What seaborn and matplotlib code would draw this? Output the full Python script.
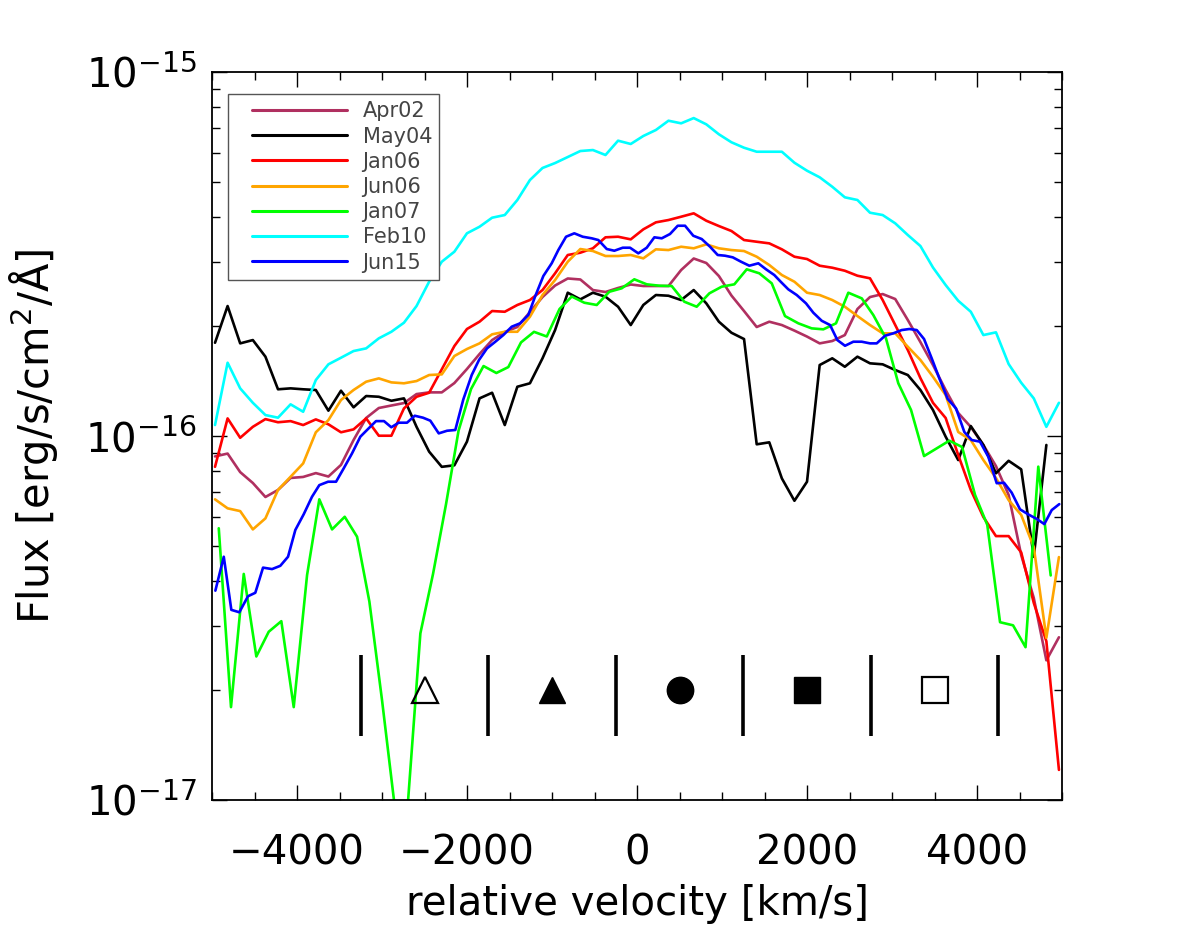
import numpy as np
import pandas as pd
import matplotlib
matplotlib.use("Agg")
import matplotlib.pyplot as plt
import seaborn as sns
from matplotlib.ticker import MultipleLocator, NullFormatter, LogLocator
from matplotlib.lines import Line2D
from matplotlib.legend_handler import HandlerLine2D

sns.set_style("ticks")
plt.rcParams['font.family'] = ['DejaVu Sans']
plt.rcParams['mathtext.fontset'] = 'dejavusans'
plt.rcParams['text.color'] = 'black'
plt.rcParams['axes.labelcolor'] = 'black'
plt.rcParams['xtick.color'] = 'black'
plt.rcParams['ytick.color'] = 'black'
plt.rcParams['axes.edgecolor'] = 'black'

flux_unit = 1e-16  # all fluxes below are in 1e-16 erg/s/cm^2/A

# common velocity grid (km/s) for Apr02, May04, Jan06, Jun06, Feb10
vel = [-4965, -4817, -4669, -4520, -4372, -4224, -4076, -3928, -3779, -3631,
       -3483, -3335, -3187, -3038, -2890, -2742, -2594, -2446, -2297, -2149,
       -2001, -1853, -1705, -1556, -1408, -1260, -1112, -964, -815, -667,
       -519, -371, -223, -74, 74, 222, 370, 519, 667, 815,
       963, 1111, 1259, 1408, 1556, 1704, 1852, 2000, 2149, 2297,
       2445, 2593, 2741, 2890, 3038, 3186, 3334, 3482, 3631, 3779,
       3927, 4075, 4223, 4372, 4520, 4668, 4816, 4964]

apr02 = [0.879, 0.895, 0.796, 0.743, 0.680, 0.711, 0.767, 0.772, 0.791, 0.774,
         0.833, 0.975, 1.121, 1.194, 1.213, 1.232, 1.304, 1.318, 1.318, 1.398,
         1.528, 1.680, 1.835, 1.931, 1.993, 2.191, 2.409, 2.591, 2.709, 2.692,
         2.518, 2.487, 2.551, 2.608, 2.583, 2.583, 2.583, 2.858, 3.074, 2.988,
         2.752, 2.432, 2.205, 1.993, 2.061, 2.018, 1.948, 1.876, 1.797, 1.824,
         1.894, 2.233, 2.409, 2.455, 2.379, 2.083, 1.812, 1.567, 1.338, 1.157,
         1.059, 0.945, 0.827, 0.689, 0.471, 0.359, 0.242, 0.280]

may04 = [1.804, 2.276, 1.797, 1.835, 1.652, 1.344, 1.352, 1.344, 1.338, 1.174,
         1.332, 1.199, 1.288, 1.282, 1.250, 1.269, 1.060, 0.906, 0.823, 0.831,
         0.965, 1.269, 1.315, 1.072, 1.366, 1.396, 1.635, 1.955, 2.476, 2.374,
         2.476, 2.414, 2.266, 2.018, 2.291, 2.440, 2.429, 2.364, 2.518, 2.315,
         2.061, 1.922, 1.847, 0.949, 0.961, 0.765, 0.664, 0.749, 1.567, 1.635,
         1.550, 1.652, 1.584, 1.574, 1.518, 1.471, 1.338, 1.179, 0.996, 0.859,
         1.065, 0.945, 0.790, 0.855, 0.810, 0.466, 0.945, np.nan]

jan06 = [0.823, 1.118, 0.989, 1.060, 1.113, 1.091, 1.099, 1.072, 1.111, 1.077,
         1.024, 1.043, 1.118, 1.002, 1.002, 1.191, 1.282, 1.315, 1.525, 1.767,
         1.968, 2.061, 2.205, 2.195, 2.291, 2.364, 2.518, 2.799, 3.143, 3.189,
         3.279, 3.515, 3.528, 3.470, 3.697, 3.864, 3.921, 4.004, 4.091, 3.904,
         3.775, 3.658, 3.455, 3.418, 3.383, 3.258, 3.109, 3.064, 2.937, 2.900,
         2.845, 2.757, 2.712, 2.364, 2.018, 1.723, 1.443, 1.234, 1.121, 0.887,
         0.711, 0.599, 0.531, 0.531, 0.479, 0.348, 0.273, 0.121]

jun06 = [0.670, 0.633, 0.622, 0.554, 0.594, 0.711, 0.773, 0.841, 1.024, 1.106,
         1.256, 1.338, 1.410, 1.440, 1.404, 1.396, 1.416, 1.471, 1.477, 1.659,
         1.734, 1.797, 1.903, 1.934, 1.934, 2.127, 2.440, 2.683, 3.012, 3.264,
         3.223, 3.123, 3.123, 3.143, 3.077, 3.258, 3.243, 3.312, 3.279, 3.362,
         3.279, 3.243, 3.223, 3.109, 2.950, 2.769, 2.654, 2.476, 2.440, 2.364,
         2.266, 2.136, 2.018, 1.915, 1.915, 1.759, 1.618, 1.455, 1.296, 1.026,
         0.975, 0.859, 0.767, 0.667, 0.607, 0.495, 0.279, 0.465]

feb10 = [1.072, 1.590, 1.352, 1.234, 1.142, 1.123, 1.222, 1.166, 1.425, 1.574,
         1.641, 1.712, 1.741, 1.855, 1.934, 2.048, 2.276, 2.654, 3.012, 3.209,
         3.605, 3.758, 3.979, 4.047, 4.451, 5.050, 5.450, 5.623, 5.841, 6.067,
         6.105, 5.916, 6.477, 6.343, 6.672, 6.930, 7.349, 7.229, 7.473, 7.183,
         6.745, 6.412, 6.195, 6.040, 6.040, 6.040, 5.634, 5.357, 5.138, 4.840,
         4.527, 4.451, 4.107, 4.047, 3.840, 3.566, 3.327, 2.904, 2.599, 2.353,
         2.195, 1.894, 1.927, 1.577, 1.401, 1.269, 1.060, 1.234]

# Jan07 has its own sampling
vel_jan07 = [-4921, -4777, -4627, -4479, -4333, -4185, -4039, -3882, -3738, -3588,
             -3439, -3294, -3149, -3000, -2853, -2706, -2549, -2400, -2247, -2100,
             -1953, -1806, -1655, -1514, -1365, -1212, -1062, -912, -768, -620,
             -474, -326, -180, -32, 114, 262, 408, 556, 702, 851,
             996, 1145, 1291, 1439, 1585, 1741, 1898, 2055, 2192, 2341,
             2486, 2644, 2780, 2929, 3074, 3224, 3377, 3526, 3674, 3824,
             3977, 4121, 4271, 4424, 4571, 4721, 4867]
jan07 = [0.558, 0.180, 0.418, 0.248, 0.290, 0.310, 0.180, 0.415, 0.670, 0.554,
         0.600, 0.529, 0.351, 0.188, 0.097, 0.091, 0.287, 0.418, 0.650, 1.034,
         1.346, 1.557, 1.490, 1.547, 1.808, 1.933, 1.877, 2.233, 2.417, 2.324,
         2.291, 2.491, 2.546, 2.695, 2.611, 2.588, 2.583, 2.339, 2.266, 2.466,
         2.572, 2.611, 2.871, 2.799, 2.627, 2.136, 2.040, 1.976, 1.964, 2.040,
         2.476, 2.389, 2.150, 1.855, 1.396, 1.179, 0.881, 0.925, 0.971, 0.933,
         0.689, 0.570, 0.308, 0.302, 0.263, 0.824, 0.414]

# Jun15 is sampled finer
vel_jun15 = [-4961, -4862, -4773, -4679, -4577, -4491, -4400, -4294, -4197, -4106,
             -4020, -3921, -3824, -3738, -3635, -3541, -3451, -3353, -3255, -3157,
             -3071, -2977, -2891, -2804, -2706, -2615, -2518, -2432, -2333, -2235,
             -2138, -2044, -1945, -1859, -1765, -1667, -1573, -1474, -1376, -1279,
             -1200, -1102, -1004, -926, -835, -738, -639, -533, -455, -356,
             -267, -168, -82, 15, 114, 204, 291, 388, 479, 565,
             662, 761, 859, 949, 1035, 1126, 1224, 1321, 1427, 1518,
             1615, 1694, 1780, 1879, 1988, 2074, 2173, 2271, 2357, 2447,
             2545, 2644, 2741, 2820, 2918, 3015, 3114, 3204, 3291, 3377,
             3467, 3557, 3655, 3753, 3851, 3938, 4035, 4133, 4232, 4318,
             4408, 4506, 4604, 4702, 4792, 4879, 4968]
jun15 = [0.376, 0.466, 0.333, 0.328, 0.363, 0.371, 0.435, 0.431, 0.440, 0.466,
         0.552, 0.610, 0.681, 0.733, 0.749, 0.749, 0.815, 0.896, 0.996, 1.050,
         1.099, 1.099, 1.057, 1.088, 1.088, 1.137, 1.123, 1.102, 1.017, 1.034,
         1.039, 1.260, 1.471, 1.618, 1.741, 1.816, 1.894, 1.997, 2.040, 2.150,
         2.414, 2.752, 2.982, 3.243, 3.528, 3.605, 3.528, 3.493, 3.455, 3.264,
         3.229, 3.291, 3.291, 3.176, 3.291, 3.515, 3.493, 3.589, 3.782, 3.782,
         3.550, 3.477, 3.312, 3.143, 3.129, 3.097, 3.012, 2.937, 2.982, 2.871,
         2.769, 2.649, 2.529, 2.440, 2.315, 2.182, 2.073, 2.018, 1.835, 1.770,
         1.816, 1.816, 1.797, 1.797, 1.886, 1.915, 1.955, 1.968, 1.955, 1.847,
         1.635, 1.440, 1.264, 1.191, 1.026, 0.975, 0.965, 0.877, 0.742, 0.744,
         0.699, 0.629, 0.609, 0.592, 0.573, 0.626, 0.650]

# velocity bin separators and symbols
bin_edges = [-3250, -1750, -250, 1250, 2750, 4250]
bin_lo, bin_hi = 1.5e-17, 2.5e-17
sym_vel = [-2500, -1000, 500, 2000, 3500]
sym_flux = 2.0e-17

series = [("Apr02", vel, apr02, "#B03060"),
          ("May04", vel, may04, "black"),
          ("Jan06", vel, jan06, "#FF0000"),
          ("Jun06", vel, jun06, "#FFA500"),
          ("Jan07", vel_jan07, jan07, "#00FF00"),
          ("Feb10", vel, feb10, "#00FFFF"),
          ("Jun15", vel_jun15, jun15, "#0000FF")]

fig = plt.figure(figsize=(11.8, 9.44), dpi=100)
ax = fig.add_axes([0.1797, 0.1525, 0.7203, 0.7712])

for name, v, f, c in series:
    df = pd.DataFrame({"vel": v, "flux": np.array(f) * flux_unit})
    sns.lineplot(data=df, x="vel", y="flux", ax=ax, color=c, lw=1.9,
                 label=name, estimator=None, sort=False)

ax.vlines(bin_edges, bin_lo, bin_hi, colors="black", lw=2.6)
ax.plot(sym_vel[0], sym_flux, marker="^", ms=19, mfc="none", mec="black", mew=1.6, ls="none")
ax.plot(sym_vel[1], sym_flux, marker="^", ms=19, mfc="black", mec="black", ls="none")
ax.plot(sym_vel[2], sym_flux, marker="o", ms=19, mfc="black", mec="black", ls="none")
ax.plot(sym_vel[3], sym_flux, marker="s", ms=19, mfc="black", mec="black", ls="none")
ax.plot(sym_vel[4], sym_flux, marker="s", ms=19, mfc="none", mec="black", mew=1.6, ls="none")

ax.set_yscale("log")
ax.set_xlim(-5000, 5000)
ax.set_ylim(1e-17, 1e-15)
ax.set_yticks([1e-17, 1e-16, 1e-15])
ax.yaxis.set_minor_locator(LogLocator(base=10, subs=np.arange(2, 10)))
ax.yaxis.set_minor_formatter(NullFormatter())
ax.xaxis.set_major_locator(MultipleLocator(2000))
ax.xaxis.set_minor_locator(MultipleLocator(500))

ax.tick_params(which="both", direction="in", top=True, right=True, width=1.0)
ax.tick_params(which="major", length=11, labelsize=29)
ax.tick_params(which="minor", length=6)
ax.tick_params(axis="x", pad=24)
ax.tick_params(axis="y", pad=11)
for s in ax.spines.values():
    s.set_linewidth(1.3)

ax.set_xlabel("relative velocity [km/s]", fontsize=29)
ax.set_ylabel("Flux [erg/s/cm$^2$/Å]", fontsize=30)
ax.xaxis.set_label_coords(0.5, -0.115)
ax.yaxis.set_label_coords(-0.179, 0.5)

leg = ax.legend(loc="upper left", bbox_to_anchor=(0.0188, 0.9698), fontsize=15,
                handlelength=5.34, handletextpad=0.77, labelspacing=0.25,
                borderpad=0.35, borderaxespad=0, fancybox=False, framealpha=1,
                edgecolor="#555555", labelcolor="#444444",
                handler_map={Line2D: HandlerLine2D(xpad=0.82)})
leg.get_frame().set_linewidth(1.0)
for line in leg.get_lines():
    line.set_linewidth(2.2)

fig.savefig("out.png", dpi=100)
